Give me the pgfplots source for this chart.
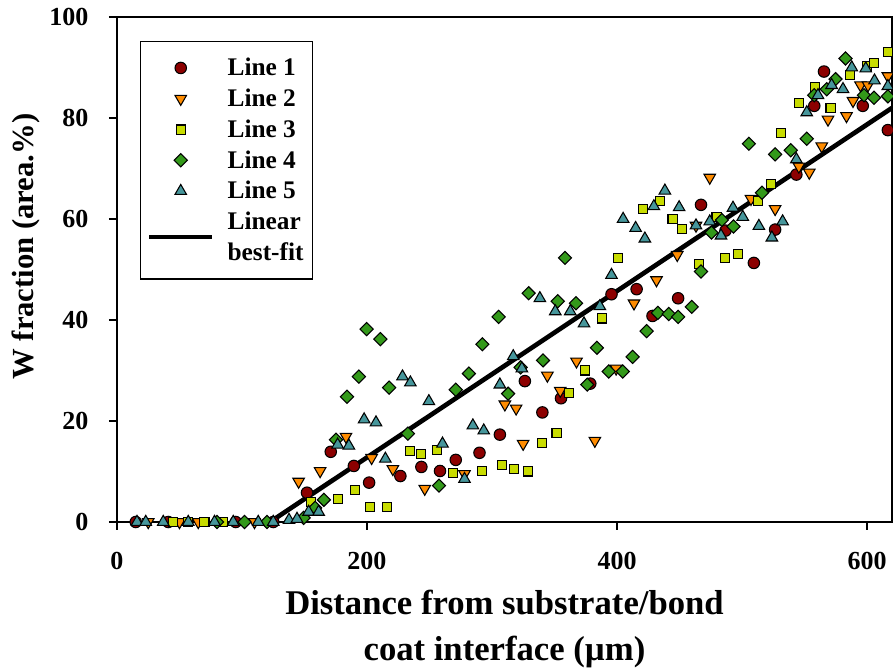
\documentclass[border=0pt]{standalone}
\usepackage{fontspec}
\setmainfont{Liberation Serif}
\usepackage{pgfplots}
\usepackage{pgfplotstable}
\pgfplotsset{compat=1.18}

\definecolor{cone}{RGB}{140,0,0}
\definecolor{ctwo}{RGB}{255,140,0}
\definecolor{cthree}{RGB}{200,220,0}
\definecolor{cfour}{RGB}{51,153,26}
\definecolor{cfive}{RGB}{70,150,155}

% Line 1 (circles)
\pgfplotstableread{
x y
15 0
41 0
95 0
125 0
152 5.8
171 13.9
189.5 11.1
201.7 7.8
226.7 9.1
243.5 10.9
258.4 10.1
271 12.3
290 13.7
306.3 17.3
326.3 27.9
340.3 21.7
355.2 24.5
378.6 27.4
395.6 45.1
415.7 46.1
428.4 40.8
448.9 44.3
467.2 62.8
486.8 57.7
509.5 51.3
526.5 57.9
543.5 68.8
557.8 82.4
565.6 89.2
596.6 82.4
616.7 77.6
}\lineone

% Line 2 (down triangles)
\pgfplotstableread{
x y
25 0
50 0
65 0
110 0
145.3 8
162.5 10.1
183.2 16.9
203.7 12.7
220.7 10.5
246.2 6.6
278 9.5
310.3 23.3
319.3 22.5
324.9 15.5
344.3 29
354.6 26
367.6 31.8
382.3 16.1
399.3 30.4
413.6 43.3
431.6 47.9
448.2 52.9
463.2 58.7
474.2 68.2
507.2 64
526.5 62
545.5 70.4
553.8 69.2
563.8 74.4
568.8 79.7
583.6 80.4
588.8 83.4
594.8 86.5
600.8 86.5
616.7 88.3
}\linetwo

% Line 3 (squares)
\pgfplotstableread{
x y
45 0
57 0
70 0
85 0
155.5 4
176.5 4.6
190.5 6.4
202.7 3
215.7 3
234.7 14.1
243.5 13.5
255.7 14.3
268.5 9.7
292 10.1
308.3 11.3
317.3 10.5
328.9 10
340.3 15.7
351.6 17.7
361.6 25.6
374.3 30
388.3 40.3
400.9 52.3
420.9 62
434.3 63.6
444.4 60
451.9 58
465.6 51.1
479.6 60.4
486.2 52.3
496.6 53.1
512.8 63.6
523.5 67
531.5 77.1
545.5 83
558.4 86.2
570.8 81.9
586.3 88.5
599.7 90.3
605.6 90.9
616.7 93.1
}\linethree

% Line 4 (diamonds)
\pgfplotstableread{
x y
80 0
102 0
120 0
149.3 0.8
158.5 2.8
165.5 4.4
175.2 16.3
184 24.8
193.5 28.8
199.7 38.2
210.7 36.2
217.7 26.6
232.7 17.5
257.6 7.2
271 26.2
281.5 29.4
292.3 35.2
305.3 40.6
312.9 25.4
322.9 30.6
329.3 45.3
340.8 32
352.6 43.7
358.4 52.3
367.2 43.3
376.2 27.2
383.9 34.5
393.4 29.8
404.6 29.8
412.5 32.7
423.7 37.8
432.7 41.4
441.4 41.2
448.9 40.6
459.8 42.6
467.2 49.6
475.6 57.3
483.9 59.8
493.2 58.5
505.5 74.9
516 65.2
526.5 72.8
539 73.6
551.8 75.9
557.8 84.5
567.8 85.7
574.8 87.7
582.8 91.8
597.6 84.5
605.6 84
616.7 84.3
}\linefour

% Line 5 (up triangles)
\pgfplotstableread{
x y
16 0
23 0
37 0
57 0
78 0
93 0
113 0
125 0
137.6 0.4
144 0.6
153.3 2
161.3 2
176.5 15.3
185.5 15.1
197.7 20.3
207.2 19.7
214.7 12.5
228.4 28.8
234.7 27.6
249.5 23.9
260.4 15.5
278 8.5
284.7 19.1
293.4 18.1
306.3 27.2
317 32.8
323.9 30.4
338.3 44.3
350.6 41.7
362.6 41.7
373.6 39.3
386.3 42.7
395.6 48.9
404.9 60
414.9 58.2
422.3 56.1
429.5 62.5
438.3 65.6
449.7 62.3
463.2 58.7
474.2 59.5
483.2 56.7
492.8 62.2
500.6 60.4
513.5 58.6
523.9 56.3
532.5 59.5
543.5 71.8
551.8 81.1
560.8 84.5
571.7 86.5
580.8 85.7
587.8 90
599 89.8
606 87.4
616.7 86.3
}\linefive

\begin{document}
\begin{tikzpicture}
\useasboundingbox (-87.75pt,-111pt) rectangle (582pt,391.5pt);
\begin{axis}[
    scale only axis,
    width=581.25pt, height=378.75pt,
    xmin=0, xmax=620, ymin=0, ymax=100,
    xtick={0,200,400,600},
    ytick={0,20,40,60,80,100},
    tick align=outside, tick pos=left,
    major tick length=6pt,
    axis line style={line width=1.1pt},
    every tick/.style={black, line width=1.1pt},
    clip=false,
    /pgf/number format/assume math mode=true,
    tick label style={font=\fontsize{19.5}{20}\selectfont\bfseries},
    xticklabel style={yshift=-13pt},
    yticklabel style={xshift=-12pt},
    xlabel={Distance from substrate/bond\\coat interface (\textmu m)},
    ylabel={W fraction (area.\%)},
    xlabel style={font=\fontsize{26}{34.5}\selectfont\bfseries, align=center,
        at={(axis description cs:0.5,0)}, anchor=center, yshift=-80pt},
    every axis y label/.style={at={(axis description cs:-0.117,0.5455)},
        rotate=90, anchor=center, font=\fontsize{23}{26}\selectfont\bfseries},
    legend style={at={(axis description cs:0.0297,0.9525)}, anchor=north west,
        draw=black, line width=0.8pt, inner xsep=5pt, inner ysep=10.5pt,
        font=\fontsize{19}{23}\selectfont\bfseries,
        cells={align=left, inner sep=1.5pt}, row sep=4.4pt, column sep=8pt},
    legend cell align=left,
    legend image code/.code={%
        \draw[mark repeat=2,mark phase=2,#1]
        plot coordinates {(0pt,0pt) (23.5pt,0pt) (47pt,0pt)};},
]
\addplot[black, line width=3.5pt, forget plot] coordinates {(122.4,0) (620,82)};

\addplot[only marks, mark=*, mark size=4.3pt,
    mark options={fill=cone, draw=black, line width=0.8pt}] table {\lineone};
\addlegendentry{Line 1}
\addplot[only marks, mark=triangle*, mark size=5pt,
    mark options={rotate=180, fill=ctwo, draw=black, line width=0.8pt}] table {\linetwo};
\addlegendentry{Line 2}
\addplot[only marks, mark=square*, mark size=3.4pt,
    mark options={fill=cthree, draw=black, line width=0.8pt}] table {\linethree};
\addlegendentry{Line 3}
\addplot[only marks, mark=square*, mark size=3.5pt,
    mark options={rotate=45, fill=cfour, draw=black, line width=0.8pt}] table {\linefour};
\addlegendentry{Line 4}
\addplot[only marks, mark=triangle*, mark size=5pt,
    mark options={fill=cfive, draw=black, line width=0.8pt}] table {\linefive};
\addlegendentry{Line 5}
\addlegendimage{black, line width=3.3pt}
\addlegendentry{Linear\\best-fit}
\end{axis}
\end{tikzpicture}
\end{document}
